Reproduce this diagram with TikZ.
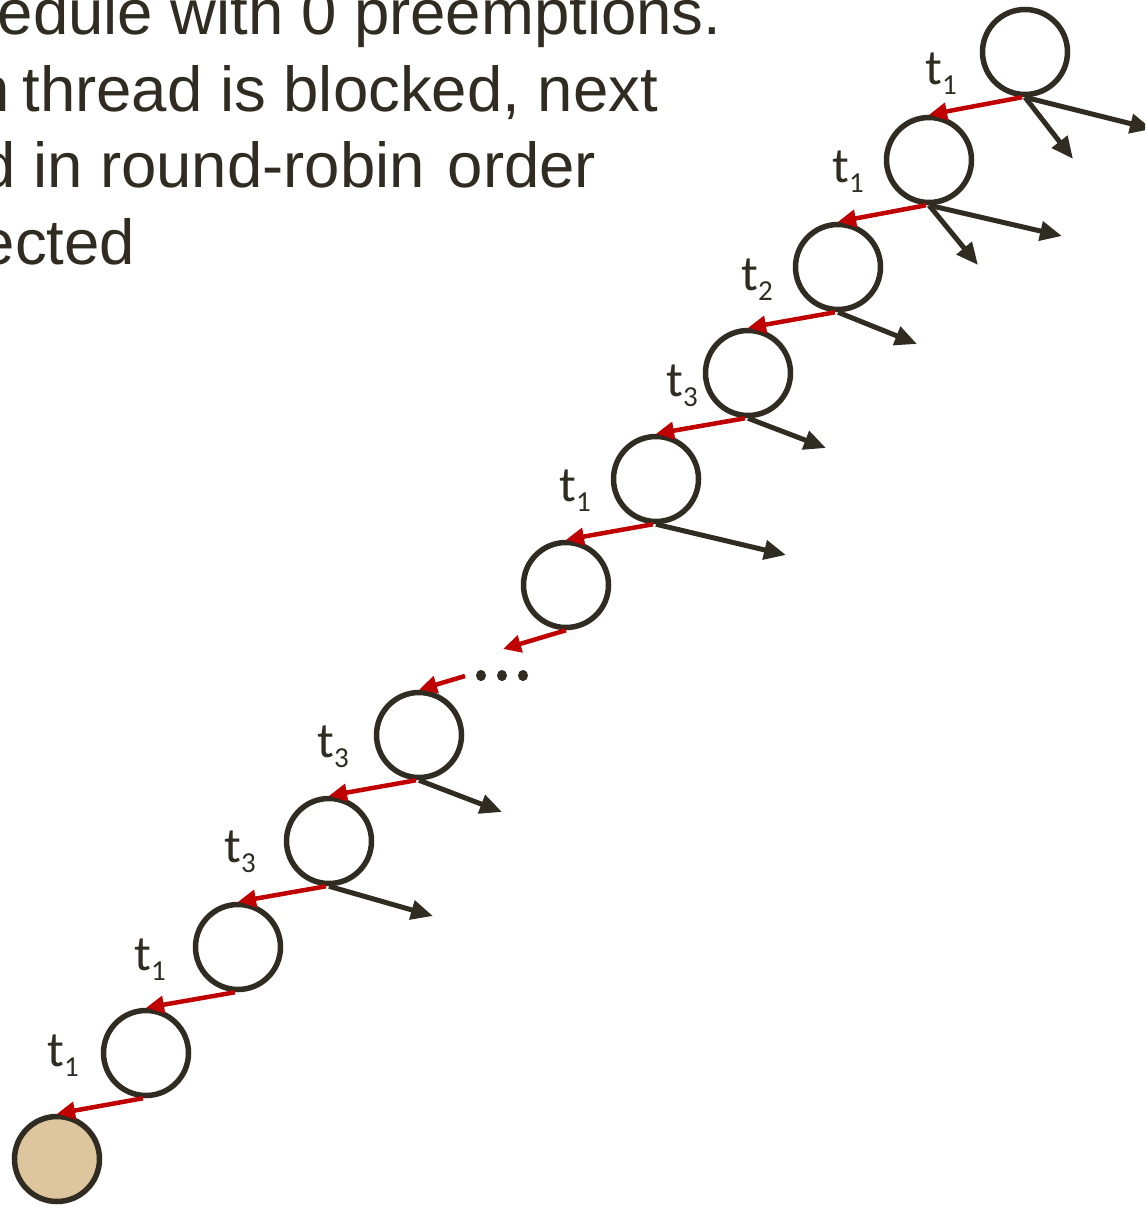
\documentclass[tikz,border=0pt]{standalone}
\usepackage{fontspec}
\setmainfont{Liberation Sans}
\newfontfamily\labfont{Carlito}
\usetikzlibrary{arrows.meta}
\definecolor{ink}{HTML}{312C22}
\definecolor{redarr}{HTML}{C00000}
\definecolor{tanfill}{HTML}{DDC59D}
\newcommand{\tl}[1]{t\raisebox{-10pt}{\fontsize{29}{29}\selectfont #1}}
\begin{document}
\begin{tikzpicture}[x=1pt,y=-1pt,
  state/.style={circle, draw=ink, line width=5.5pt, minimum size=85pt, inner sep=0pt, fill=white},
  redlink/.style={draw=redarr, line width=4.5pt, -{Triangle[length=18pt,width=17pt]}},
  blacklink/.style={draw=ink, line width=5pt, -{Triangle[length=22pt,width=19pt]}},
  lbl/.style={text=ink, font=\labfont\fontsize{50}{50}\selectfont, inner sep=0pt},
  txt/.style={text=ink, font=\fontsize{63.5}{63.5}\selectfont, anchor=base west, inner sep=0pt}]
\useasboundingbox (0,0) rectangle (1145,1209);
\clip (0,0) rectangle (1145,1209);
\fill[white] (0,0) rectangle (1145,1209);

\node[txt] (line1) at (-2.5,35) {edule with 0 preemptions.};
\node[txt] (line2) at (-26,112) {n\hspace{13pt}thread is blocked, next};
\node[txt] (line3) at (-20,187) {d in round-robin\hspace{23pt}order};
\node[txt] (line4) at (-20.5,264) {ected};

\node[state] (n1) at (1025,52) {};
\node[state] (n2) at (929,160) {};
\node[state] (n3) at (838,267) {};
\node[state] (n4) at (748,373) {};
\node[state] (n5) at (656,479) {};
\node[state] (n6) at (566,585) {};
\node[state] (n7) at (419,735) {};
\node[state] (n8) at (329,841) {};
\node[state] (n9) at (238,947) {};
\node[state] (n10) at (146,1053) {};
\node[state, fill=tanfill] (n11) at (57,1159) {};

\node[lbl] (l1) at (941,74) {\tl{1}};
\node[lbl] (l2) at (848,172) {\tl{1}};
\node[lbl] (l3) at (757,280) {\tl{2}};
\node[lbl] (l4) at (682,386) {\tl{3}};
\node[lbl] (l5) at (575,491) {\tl{1}};
\node[lbl] (l6) at (333,747) {\tl{3}};
\node[lbl] (l7) at (240,852) {\tl{3}};
\node[lbl] (l8) at (150,960) {\tl{1}};
\node[lbl] (l9) at (63,1056) {\tl{1}};

\coordinate (d1) at (503,649);
\coordinate (d2) at (465,676);
\node[inner sep=0pt] (dots) at (502,675.5) {};
\foreach \dx in {-21,0,21} \fill[ink] ([xshift=\dx pt]dots.center) ellipse [x radius=5pt, y radius=5.6pt];

\coordinate (e1a) at (1073,159);
\coordinate (e1b) at (1152,129);
\coordinate (e2a) at (978,265);
\coordinate (e2b) at (1062,236);
\coordinate (e3) at (917,344);
\coordinate (e4) at (826,448);
\coordinate (e5) at (786,555);
\coordinate (e7) at (502,812);
\coordinate (e8) at (433,916);

\draw[blacklink] (n1.south) -- (e1a);
\draw[blacklink] (n1.south) -- (e1b);
\draw[blacklink] (n2.south) -- (e2a);
\draw[blacklink] (n2.south) -- (e2b);
\draw[blacklink] (n3.south) -- (e3);
\draw[blacklink] (n4.south) -- (e4);
\draw[blacklink] (n5.south) -- (e5);
\draw[blacklink] (n7.south) -- (e7);
\draw[blacklink] (n8.south) -- (e8);

\draw[redlink] ([xshift=-3pt]n1.south) -- (n2.north);
\draw[redlink] ([xshift=-3pt]n2.south) -- (n3.north);
\draw[redlink] ([xshift=-3pt]n3.south) -- (n4.north);
\draw[redlink] ([xshift=-3pt]n4.south) -- (n5.north);
\draw[redlink] ([xshift=-3pt]n5.south) -- (n6.north);
\draw[redlink] (n6.south) -- (d1);
\draw[redlink] (d2) -- (n7.north);
\draw[redlink] ([xshift=-3pt]n7.south) -- (n8.north);
\draw[redlink] ([xshift=-3pt]n8.south) -- (n9.north);
\draw[redlink] ([xshift=-3pt]n9.south) -- (n10.north);
\draw[redlink] ([xshift=-3pt]n10.south) -- (n11.north);
\end{tikzpicture}
\end{document}
